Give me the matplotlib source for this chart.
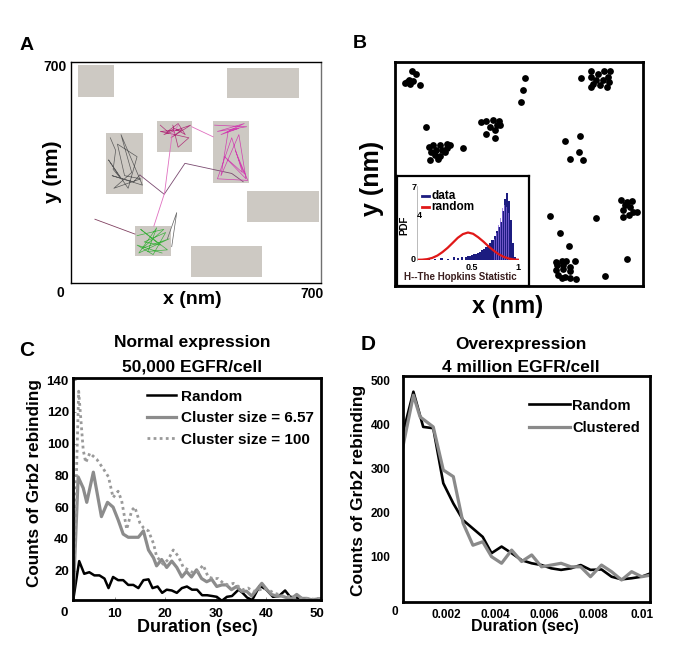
import matplotlib.pyplot as plt
from matplotlib.patches import Rectangle

plt.rcParams['font.family'] = ['Liberation Sans', 'DejaVu Sans']
plt.rcParams['font.weight'] = 'bold'

W, H = 685, 671

# ---- A: gray domains and receptor trajectories (nm) ----
patch_x = [20, 437, 241, 98, 398, 493, 179, 336]
patch_y = [590, 586, 415, 282, 317, 193, 86, 19]
patch_w = [100, 201, 98, 104, 100, 201, 101, 199]
patch_h = [101, 95, 98, 193, 196, 98, 94, 98]

traj_gray_x = [110, 125, 118, 140, 105, 160, 185, 130, 150, 195, 120, 170, 140, 200, 115, 175, 193]
traj_gray_y = [460, 420, 360, 330, 390, 300, 400, 440, 340, 330, 300, 350, 470, 310, 340, 320, 342]
link_dark_x = [193, 261, 319, 450, 482]
link_dark_y = [342, 281, 379, 347, 321]
traj_pink_x = [250, 270, 300, 320, 290, 260, 335, 280, 310, 250, 330, 300, 285]
traj_pink_y = [500, 480, 505, 470, 490, 470, 500, 460, 485, 480, 460, 430, 500]
link_pink_x = [232, 262, 283, 300]
link_pink_y = [180, 285, 470, 500]
link_pink2_x = [338, 398]
link_pink2_y = [495, 463]
traj_mag_x = [402, 492, 410, 485, 420, 470, 440, 420, 470, 490, 430, 480, 450, 410, 495, 460, 485]
traj_mag_y = [500, 495, 480, 505, 470, 490, 480, 340, 470, 330, 400, 350, 460, 330, 325, 420, 345]
traj_green_x = [185, 260, 200, 275, 190, 240, 215, 270, 195, 250, 205, 265, 230, 185, 255]
traj_green_y = [150, 170, 110, 140, 95, 175, 100, 105, 170, 120, 130, 160, 90, 120, 95]
link_left_x = [67, 179]
link_left_y = [202, 155]
link_out_x = [270, 296, 282]
link_out_y = [140, 223, 115]

# ---- B: clustered receptor positions (nm) ----
dots_x = [47, 59, 33, 42, 50, 70, 28, 39,
          368, 361, 355,
          524, 554, 573, 589, 608, 554, 568, 587, 601, 559, 578, 597, 604, 554,
          87,
          97, 108, 127, 146, 155, 103, 117, 132, 146, 113, 127, 99, 122, 141, 191,
          244, 258, 277, 294, 288, 268, 282, 258, 282, 296,
          521, 479, 520, 495, 531,
          639, 655, 670, 648, 662, 644, 672, 683, 644, 660,
          437, 465, 491, 568, 655, 594,
          454, 470, 484, 507, 456, 473, 493, 454, 475, 493, 460, 479, 493, 512, 470]
dots_y = [672, 664, 637, 630, 641, 629, 634, 643,
          651, 612, 576,
          650, 672, 664, 671, 672, 653, 645, 643, 653, 632, 627, 622, 638, 622,
          497,
          435, 440, 440, 445, 440, 419, 424, 424, 430, 409, 406, 393, 398, 419, 430,
          513, 516, 520, 516, 502, 497, 489, 476, 464, 502,
          468, 452, 419, 398, 393,
          270, 263, 266, 253, 248, 237, 232, 232, 216, 221,
          218, 167, 126, 214, 83, 32,
          76, 78, 78, 78, 66, 66, 60, 50, 52, 48, 34, 29, 24, 21, 24]

# inset: Hopkins statistic
hop_x = [0.12, 0.18, 0.24, 0.30, 0.36, 0.40, 0.44, 0.48, 0.50, 0.52, 0.54, 0.56, 0.58, 0.60, 0.62, 0.64,
         0.66, 0.68, 0.70, 0.72, 0.74, 0.76, 0.78, 0.80, 0.82, 0.84, 0.86, 0.88, 0.90, 0.92, 0.94, 0.96]
hop_data = [0.05, 0.1, 0.15, 0.1, 0.3, 0.15, 0.25, 0.3, 0.35, 0.4, 0.5, 0.55, 0.6, 0.7, 0.8, 0.9,
            1.0, 1.2, 1.4, 1.6, 1.9, 2.3, 2.7, 3.1, 3.6, 4.6, 5.8, 6.3, 5.6, 3.8, 1.6, 0.3]
hop2_x = [0.76, 0.78, 0.80, 0.82, 0.84, 0.86, 0.88, 0.90]
hop2_data = [2.0, 2.6, 3.3, 4.0, 4.9, 5.2, 5.0, 4.4]
rnd_x = [0, 0.05, 0.1, 0.15, 0.2, 0.25, 0.3, 0.35, 0.4, 0.45, 0.5, 0.55, 0.6, 0.65, 0.7, 0.75, 0.8,
         0.85, 0.9, 0.95, 1.0]
rnd_pdf = [0.02, 0.03, 0.08, 0.2, 0.42, 0.75, 1.15, 1.62, 2.1, 2.45, 2.6, 2.48, 2.15, 1.75, 1.3, 0.9,
           0.55, 0.3, 0.14, 0.05, 0.02]

# ---- C: normal expression ----
rand_t = [1.8, 3, 4, 5, 6, 7, 8, 8.8, 9.7, 10.7, 11.7, 12.7, 13.7, 14.7, 15.7, 16.7, 17.5, 18.5, 19.4,
          20.3, 21.3, 22.3, 23.3, 24.3, 25.3, 26.3, 27.3, 28.3, 29.3, 30.2, 31.2, 32.2, 33.2, 34.5, 35.3,
          36.2, 37.2, 38.7, 40, 41.3, 42.5, 43.7, 44.7, 46, 47.3, 48.3, 49.2, 50.8]
rand_n = [1, 26, 18, 19, 17, 17, 15, 9, 16, 14, 14, 11, 11, 9, 14, 14.5, 9, 10, 6, 8, 7.5, 6, 9, 10, 8,
          8, 4.5, 4.5, 4, 3.5, 1, 3.5, 4, 8, 6, 3, 1.5, 10.5, 8, 3.5, 4, 7.5, 3.5, 3, 2.5, 2, 1.5, 1]
c657_t = [1.8, 2.8, 3.8, 4.5, 5.8, 7.4, 8.6, 9.7, 10.7, 11.7, 12.7, 13.7, 14.7, 15.7, 16.7, 17.7, 18.3,
          19.3, 20.3, 21.3, 22.3, 23.3, 24.2, 25.2, 26.2, 27.2, 28.2, 29.2, 30.2, 31.2, 32.1, 33.1, 34.1,
          35.1, 36.1, 37.1, 38.1, 39.1, 40.1, 41, 42, 43, 44, 45, 46, 47, 48, 49, 50.8]
c657_n = [2, 79, 72, 63, 82, 54, 63, 60, 52, 43, 41, 41, 41, 45, 33, 28, 23, 27, 22, 26, 22, 16, 19.5,
          16, 20.5, 15, 13, 14.5, 10, 11, 11, 8, 10, 7, 7, 4, 8, 12, 8, 5, 4, 4, 3, 2.5, 5, 2.5, 2.5,
          1.6, 2.5]
c100_t = [1.8, 2.9, 3.8, 4.3, 5.1, 6.5, 7.8, 8.8, 9.7, 10.7, 11.4, 12.4, 13.4, 14, 15, 15.7, 16.7, 17.7,
          18.3, 19.6, 20.6, 21.6, 22.6, 23.6, 24.6, 25.6, 26.5, 27.5, 28.5, 29.5, 30.5, 31.5, 32.5, 33.5,
          34.5, 35.4, 36.4, 37.4, 38.4, 39.4, 40.4, 41.4, 42.4, 43.3, 44.3, 45.3, 46.3, 47.3, 48.3,
          49.3, 50.8]
c100_n = [2, 133, 96, 88, 94, 90, 84, 79, 66, 70, 64, 46, 58, 60, 50, 47, 45, 37, 29, 24, 27, 33, 29,
          22, 20.5, 18.5, 19.5, 23.5, 16, 15, 15, 12, 11, 12, 10, 8, 9, 7, 7.5, 9, 8, 6, 5, 4, 3.7, 3.2,
          3, 2.5, 2.5, 2, 2.5]

# ---- D: overexpression ----
rand_ms = [0.23, 0.67, 1.07, 1.48, 1.89, 2.3, 2.7, 3.1, 3.5, 3.86, 4.27, 4.68, 5.09, 5.5, 5.9, 6.3,
           6.7, 7.1, 7.5, 7.9, 8.35, 8.76, 9.17, 9.58, 9.99, 10.35]
rand_d = [378, 475, 395, 392, 267, 221, 183, 164, 145, 108, 123, 108, 92, 85, 81, 73.5, 70, 73.5,
          81, 70, 71, 54.5, 48.5, 51, 54.5, 62]
clus_ms = [0.23, 0.67, 0.94, 1.48, 1.89, 2.3, 2.7, 3.1, 3.5, 3.86, 4.27, 4.68, 5.09, 5.5, 5.9, 6.3,
           6.7, 7.1, 7.5, 7.9, 8.35, 8.76, 9.17, 9.58, 9.99, 10.35]
clus_d = [347, 467, 418, 395, 297, 282, 176, 126, 134, 100, 85, 115, 89, 104, 77, 81, 85, 77, 77,
          54.5, 81, 66, 47, 66, 54.5, 58]


def box(l, t, r, b):
    return [l / W, 1 - b / H, (r - l) / W, (b - t) / H]


def ftext(x, y, s, **kw):
    kw.setdefault('ha', 'center')
    kw.setdefault('va', 'center')
    fig.text(x / W, 1 - y / H, s, **kw)


fig = plt.figure(figsize=(W / 100, H / 100), dpi=100)

# ---------------- A ----------------
ax = fig.add_axes(box(71, 62, 321, 283))
for i in range(len(patch_x)):
    ax.add_patch(Rectangle((patch_x[i], patch_y[i]), patch_w[i], patch_h[i],
                           facecolor='#cdc9c3', edgecolor='none'))
ax.plot(traj_gray_x, traj_gray_y, color='#5a5a5a', lw=0.5)
ax.plot(link_dark_x, link_dark_y, color='#7a4a70', lw=0.6)
ax.plot(traj_pink_x, traj_pink_y, color='#b0307a', lw=0.5)
ax.plot(link_pink_x, link_pink_y, color='#e070c0', lw=0.6)
ax.plot(link_pink2_x, link_pink2_y, color='#e070c0', lw=0.6)
ax.plot(traj_mag_x, traj_mag_y, color='#d040b0', lw=0.5)
ax.plot(traj_green_x, traj_green_y, color='#40b040', lw=0.5)
ax.plot(link_left_x, link_left_y, color='#804060', lw=0.6)
ax.plot(link_out_x, link_out_y, color='#606060', lw=0.5)
ax.set_xlim(0, 700)
ax.set_ylim(0, 700)
ax.set_xticks([])
ax.set_yticks([])
for s in ax.spines.values():
    s.set_linewidth(1.0)
ax.spines['right'].set_color('#707070')

ftext(27, 46, 'A', fontsize=14)
ftext(55, 67, '700', fontsize=10)
ftext(60, 293, '0', fontsize=10)
ftext(312, 294, '700', fontsize=10)
ftext(192, 299, 'x (nm)', fontsize=14)
ftext(52, 172, 'y (nm)', fontsize=15, rotation=90)

# ---------------- B ----------------
ax = fig.add_axes(box(395, 62, 643, 286))
ax.scatter(dots_x, dots_y, s=24, color='black', linewidths=0)
ax.set_xlim(0, 700)
ax.set_ylim(0, 700)
ax.set_xticks([])
ax.set_yticks([])
for s in ax.spines.values():
    s.set_linewidth(2.0)

ftext(360, 44, 'B', fontsize=14)
ftext(372, 178, 'y (nm)', fontsize=18, rotation=90)
ftext(508, 306, 'x (nm)', fontsize=17)

# inset frame
ax = fig.add_axes(box(397, 176, 529, 286))
ax.set_facecolor('white')
ax.set_xticks([])
ax.set_yticks([])
for s in ax.spines.values():
    s.set_linewidth(1.6)

ax = fig.add_axes(box(417, 186, 519, 260))
ax.patch.set_alpha(0)
ax.bar(hop_x, hop_data, width=0.02, color='#1c1c80', linewidth=0)
ax.bar(hop2_x, hop2_data, width=0.012, color='#8a6ae0', alpha=0.75, linewidth=0)
ax.plot(rnd_x, rnd_pdf, color='#e01818', lw=1.6)
ax.set_xlim(0, 1.0)
ax.set_ylim(0, 7)
ax.set_xticks([])
ax.set_yticks([])
for k in ['top', 'right', 'bottom']:
    ax.spines[k].set_visible(False)
ax.spines['left'].set_color('#b0b0b0')
ax.spines['left'].set_linewidth(0.6)
ax.plot([0.05, 0.12], [6.05, 6.05], color='#1c1c80', lw=2, clip_on=False)
ax.plot([0.05, 0.12], [5.0, 5.0], color='#e01818', lw=2, clip_on=False)
ax.text(0.14, 6.05, 'data', fontsize=8.5, va='center')
ax.text(0.14, 5.0, 'random', fontsize=8.5, va='center')

ftext(413, 260, '0', fontsize=6.5)
ftext(414, 187, '7', fontsize=6.5)
ftext(419, 216, '4', fontsize=6.5)
ftext(472, 267, '0.5', fontsize=6.5)
ftext(518, 267, '1', fontsize=6.5)
ftext(404, 225, 'PDF', fontsize=7, rotation=90)
ftext(460, 277, 'H--The Hopkins Statistic', fontsize=7, color='#3a1e1e')

# ---------------- C ----------------
ax = fig.add_axes(box(73, 378, 321, 600))
ax.plot(rand_t, rand_n, color='black', lw=1.8, label='Random')
ax.plot(c657_t, c657_n, color='#8c8c8c', lw=2.3, label='Cluster size = 6.57')
ax.plot(c100_t, c100_n, color='#9a9a9a', lw=2.0, ls=(0, (1, 1.2)), label='Cluster size = 100')
ax.set_xlim(1.78, 50.8)
ax.set_ylim(1.5, 141.3)
ax.set_xticks([10, 20, 30, 40, 50])
ax.set_yticks([20, 40, 60, 80, 100, 120, 140])
ax.tick_params(direction='in', length=2, width=0.6, labelsize=9.5, color='#888888')
ax.tick_params(axis='x', pad=6)
ax.tick_params(axis='y', pad=3)
for s in ax.spines.values():
    s.set_linewidth(2.0)
ax.legend(loc='upper left', bbox_to_anchor=(0.298, 0.948), frameon=False, fontsize=11,
          handlelength=1.9, handletextpad=0.3, labelspacing=0.5, borderpad=0, borderaxespad=0)

ftext(27, 350, 'C', fontsize=15)
ftext(192, 343, 'Normal expression', fontsize=12.5)
ftext(192, 367, '50,000 EGFR/cell', fontsize=12.5)
ftext(64, 613, '0', fontsize=9.5)
ftext(197, 628, 'Duration (sec)', fontsize=13)
ftext(35, 483, 'Counts of Grb2 rebinding', fontsize=12.3, rotation=90)

# ---------------- D ----------------
ax = fig.add_axes(box(403, 376, 650, 602))
ax.plot([t / 1000 for t in rand_ms], rand_d, color='black', lw=1.9, label='Random')
ax.plot([t / 1000 for t in clus_ms], clus_d, color='#8a8a8a', lw=2.3, label='Clustered')
ax.set_xlim(0.000245, 0.01033)
ax.set_ylim(-3, 510.7)
ax.set_xticks([0.002, 0.004, 0.006, 0.008, 0.01])
ax.set_xticklabels(['0.002', '0.004', '0.006', '0.008', '0.01'])
ax.set_yticks([100, 200, 300, 400, 500])
ax.tick_params(direction='in', length=0, labelsize=8.5)
ax.tick_params(axis='x', pad=5)
ax.tick_params(axis='y', pad=9)
for s in ax.spines.values():
    s.set_linewidth(2.0)
ax.legend(loc='upper left', bbox_to_anchor=(0.512, 0.9), frameon=False, fontsize=10.5,
          handlelength=2.8, handletextpad=0.15, labelspacing=0.6, borderpad=0, borderaxespad=0)

ftext(368, 345, 'D', fontsize=15)
ftext(521, 344, 'Overexpression', fontsize=12.5)
ftext(521, 367, '4 million EGFR/cell', fontsize=12.5)
ftext(395, 612, '0', fontsize=8.5)
ftext(525, 627, 'Duration (sec)', fontsize=11.5)
ftext(358, 490, 'Counts of Grb2 rebinding', fontsize=12.5, rotation=90)

fig.savefig('out.png', dpi=100)
